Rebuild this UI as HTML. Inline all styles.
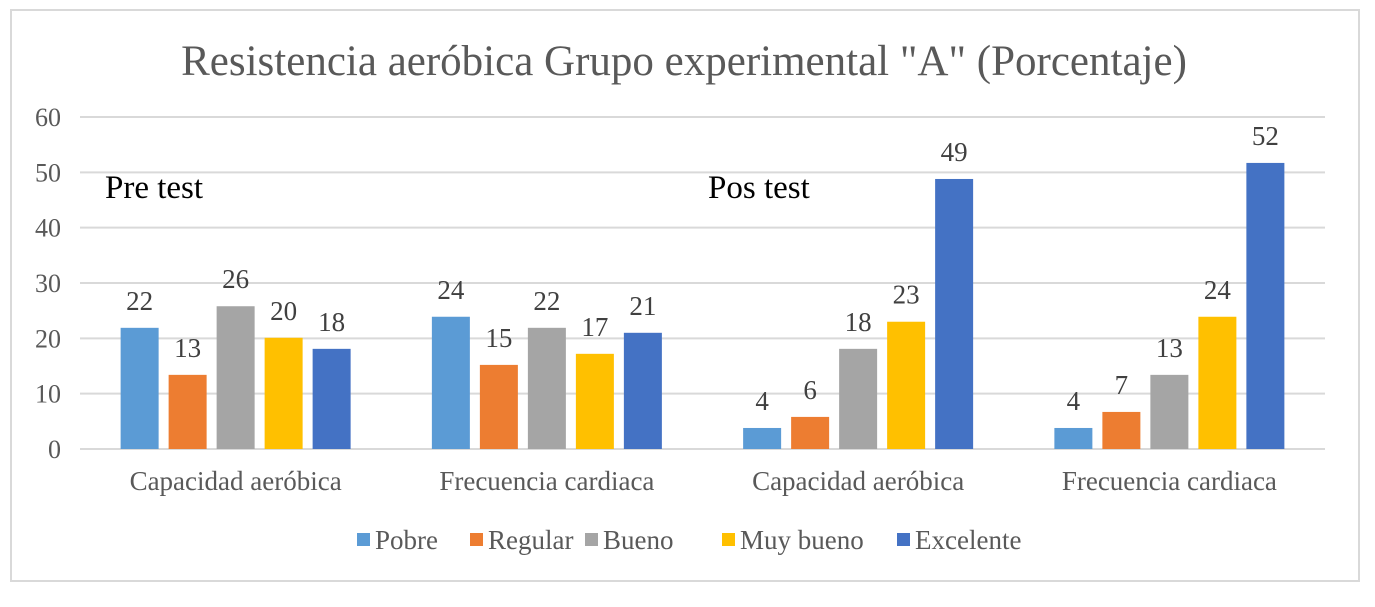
<!DOCTYPE html>
<html><head><meta charset="utf-8"><style>
body{margin:0;background:#fff;}
svg text{font-family:"Liberation Serif",serif;}
</style></head><body>
<svg id="c" width="1375" height="602" xmlns="http://www.w3.org/2000/svg">
<rect x="11" y="10" width="1348" height="571" fill="#fff" stroke="#d9d9d9" stroke-width="2"/>
<text x="684" y="75" text-anchor="middle" font-size="43" fill="#595959">Resistencia aeróbica Grupo experimental "A" (Porcentaje)</text>
<g id="grid"></g><g id="bars"></g><g id="labels"></g>
<text x="105" y="198" font-size="33" fill="#000">Pre test</text>
<text x="708" y="198" font-size="33" fill="#000">Pos test</text>
<g id="legend"></g>
</svg>
<script>
const categories=["Capacidad aeróbica","Frecuencia cardiaca","Capacidad aeróbica","Frecuencia cardiaca"];
const seriesNames=["Pobre","Regular","Bueno","Muy bueno","Excelente"];
const pobre=[21.9,23.9,3.8,3.8];
const regular=[13.4,15.2,5.8,6.7];
const bueno=[25.8,21.9,18.1,13.4];
const muyBueno=[20.1,17.2,23,23.9];
const excelente=[18.1,21,48.8,51.7];
const yTicks=[0,10,20,30,40,50,60];
const colors=["#5B9BD5","#ED7D31","#A5A5A5","#FFC000","#4472C4"];
const series=[pobre,regular,bueno,muyBueno,excelente];
const NS="http://www.w3.org/2000/svg";
const x0=80,x1=1325,y0=449,y1=117,ymax=60;
const y=v=>y0-(v/ymax)*(y0-y1);
const gw=(x1-x0)/categories.length;
function mk(tag,attrs,parent,txt){const e=document.createElementNS(NS,tag);for(const k in attrs)e.setAttribute(k,attrs[k]);if(txt!==undefined)e.textContent=txt;parent.appendChild(e);return e;}
const grid=document.getElementById('grid'),bars=document.getElementById('bars'),labels=document.getElementById('labels'),legend=document.getElementById('legend');
yTicks.forEach(t=>{
  const l=mk('line',{x1:x0,x2:x1,y1:y(t),y2:y(t),stroke:'#d9d9d9','stroke-width':2},grid);
  
  
  const tx=mk('text',{x:61,y:y(t)+9,'text-anchor':'end','font-size':26,fill:'#595959'},grid,t);
  
  
});
const bw=38,step=48;
categories.forEach((c,i)=>{
  const cx=x0+gw*(i+0.5);
  series.forEach((s,j)=>{
    const bx=cx-2.5*step+5+j*step;
    const r=mk('rect',{x:bx,y:y(s[i]),width:bw,height:y0-y(s[i]),fill:colors[j]},bars);
    
    
    const t=mk('text',{x:bx+bw/2,y:y(s[i])-18,'text-anchor':'middle','font-size':27,fill:'#404040'},labels,Math.round(s[i]));
    
    
  });
  const ct=mk('text',{x:cx,y:490,'text-anchor':'middle','font-size':27,fill:'#595959'},labels,c);
  
  
});
const lx=[357,470,585,722,897];
seriesNames.forEach((n,j)=>{
  const g=mk('g',{},legend);
  
  
  mk('rect',{x:lx[j],y:533,width:13,height:13,fill:colors[j]},g);
  mk('text',{x:lx[j]+18,y:549,'font-size':27,fill:'#595959'},g,n);
});
</script>
</body></html>
